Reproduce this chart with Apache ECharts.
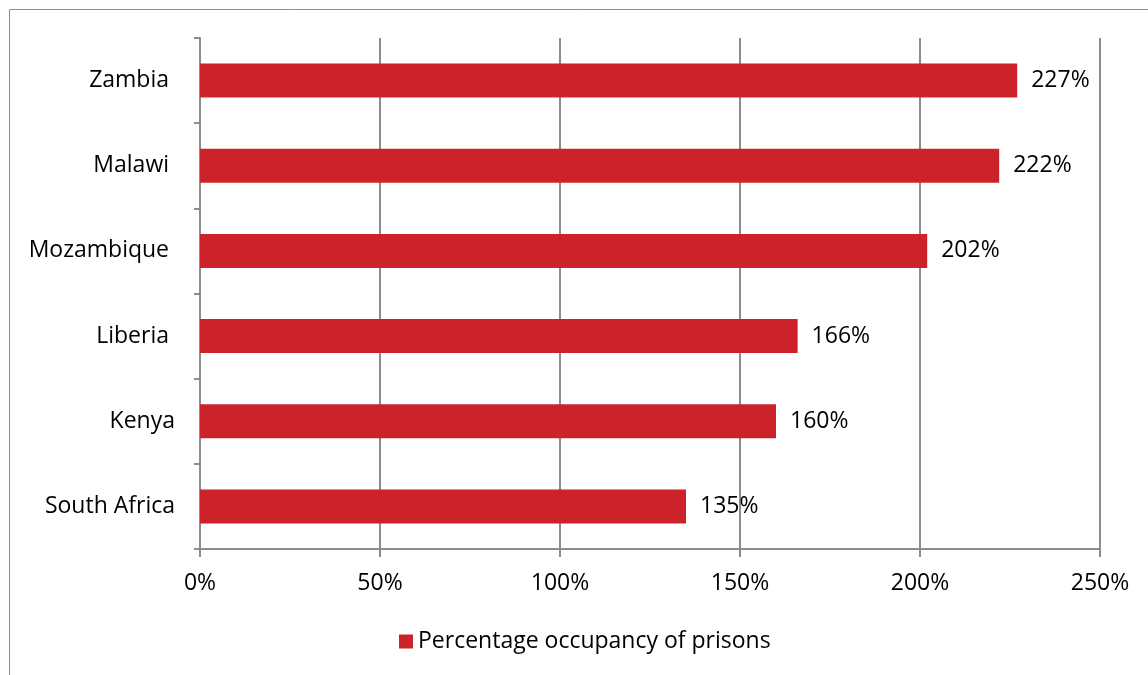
<!DOCTYPE html>
<html>
<head>
<meta charset="utf-8">
<script src="https://cdn.jsdelivr.net/npm/echarts@6/dist/echarts.min.js"></script>
<style>
  html, body { margin: 0; padding: 0; background: #fff; }
  #chart { width: 1148px; height: 675px; }
</style>
</head>
<body>
<div id="chart"></div>
<script>
const countries = ['South Africa', 'Kenya', 'Liberia ', 'Mozambique ', 'Malawi ', 'Zambia ']
const occupancy = [135, 160, 166, 202, 222, 227]
const seriesName = 'Percentage occupancy of prisons'
const font = '"Open Sans", sans-serif'

const chart = echarts.init(document.getElementById('chart'))

chart.setOption({
  animation: false,
  graphic: [{
    type: 'rect',
    shape: { x: 9.5, y: 9.5, width: 1200, height: 700 },
    style: { fill: 'none', stroke: '#8c8c8c', lineWidth: 1 },
    silent: true
  }],
  grid: { left: 200, right: 48, top: 38, bottom: 126 },
  legend: {
    bottom: 17,
    left: 394,
    icon: 'rect',
    itemWidth: 14,
    itemHeight: 14,
    itemGap: 6,
    textStyle: { fontFamily: font, fontSize: 23, color: '#000' },
    data: [seriesName]
  },
  xAxis: {
    type: 'value',
    min: 0,
    max: 250,
    interval: 50,
    axisLine: { show: true, lineStyle: { color: '#8c8c8c', width: 2 } },
    axisTick: { show: true, length: 8, lineStyle: { color: '#8c8c8c', width: 2 } },
    splitLine: { show: true, lineStyle: { color: '#8c8c8c', width: 2 } },
    axisLabel: { formatter: '{value}%', margin: 23, fontFamily: font, fontSize: 23, color: '#000' }
  },
  yAxis: {
    type: 'category',
    data: countries,
    axisLine: { show: true, lineStyle: { color: '#8c8c8c', width: 2 } },
    axisTick: { show: true, length: 6, lineStyle: { color: '#8c8c8c', width: 2 } },
    axisLabel: { margin: 25, fontFamily: font, fontSize: 23, color: '#000' }
  },
  series: [{
    name: seriesName,
    type: 'bar',
    data: occupancy,
    barWidth: 34,
    itemStyle: { color: '#cc2229' },
    label: {
      show: true,
      position: 'right',
      distance: 14,
      formatter: '{c}%',
      fontFamily: font,
      fontSize: 23,
      color: '#000'
    }
  }]
})
</script>
</body>
</html>
